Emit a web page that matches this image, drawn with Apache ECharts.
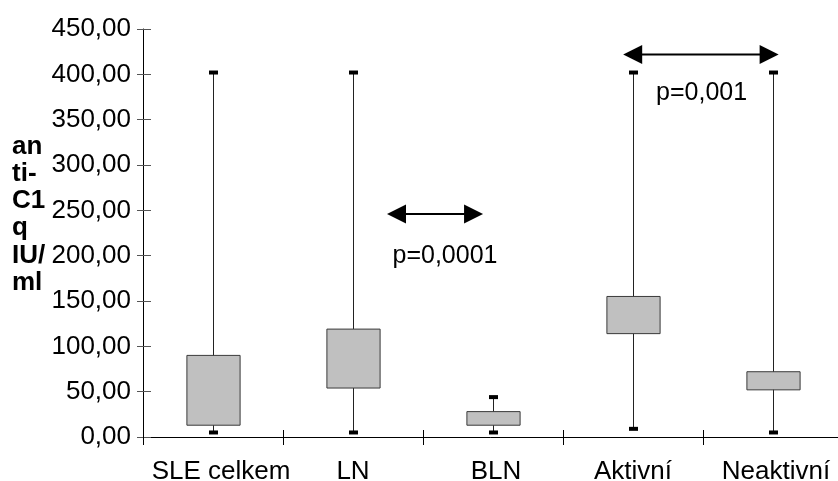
<!DOCTYPE html>
<html><head><meta charset="utf-8">
<script src="https://cdn.jsdelivr.net/npm/echarts@6/dist/echarts.min.js"></script>
<style>html,body{margin:0;padding:0;background:#fff}#c{width:838px;height:481px}</style>
</head><body><div id="c"></div>
<script>
// ---- data ----
const categories = ['SLE celkem', 'LN', 'BLN', 'Aktivní', 'Neaktivní'];
const whiskerLow  = [5, 5, 5, 9, 5];
const boxQ1       = [13, 54, 13, 114, 52];
const boxQ3       = [90, 119, 28, 155, 72];
const whiskerHigh = [402, 402, 44, 402, 402];
const yTickLabels = ['0,00', '50,00', '100,00', '150,00', '200,00', '250,00', '300,00', '350,00', '400,00', '450,00'];
const yAxisTitle = 'an\nti-\nC1\nq\nIU/\nml';
// annotations (category index units / value units)
const arrowFrom = [1.243, 2.93];
const arrowTo   = [1.929, 4.04];
const arrowAt   = [246, 422];
const pTexts    = ['p=0,0001', 'p=0,001'];
const pTextX    = [1.657, 3.49];
const pTextY    = [201, 380];

const FONT = "'Liberation Sans', Arial, sans-serif";
const chart = echarts.init(document.getElementById('c'), null, {renderer: 'canvas'});

const labelPadLeft = [16, 0, 6, 0, 6];
const categoryItems = categories.map((c, i) => ({value: c, textStyle: {padding: [0, 0, 0, labelPadLeft[i]]}}));
const boxData = categories.map((c, i) => [i, whiskerLow[i], boxQ1[i], boxQ3[i], whiskerHigh[i]]);
const arrowData = arrowAt.map((v, i) => [0, v, arrowFrom[i], arrowTo[i]]);
const textData = pTexts.map((t, i) => [0, pTextY[i], pTextX[i], i]);

const gridPos = {left: 143, width: 700, top: 29, height: 408, containLabel: false, outerBoundsMode: 'none'};

chart.setOption({
  animation: false,
  backgroundColor: '#fff',
  title: {
    text: yAxisTitle, left: 12, top: 133, padding: 0,
    textStyle: {fontFamily: FONT, fontSize: 26, fontWeight: 'bold', color: '#000', lineHeight: 27.2}
  },
  grid: [Object.assign({}, gridPos), Object.assign({}, gridPos)],
  xAxis: [{
    type: 'category', data: categoryItems, position: 'bottom', gridIndex: 0,
    axisLine: {lineStyle: {color: '#000', width: 1}},
    axisTick: {show: true, inside: false, length: 8, lineStyle: {color: '#000'}},
    axisLabel: {fontFamily: FONT, fontSize: 26, color: '#000', margin: 22, interval: 0},
    splitLine: {show: false}
  }, {
    type: 'category', data: categories, position: 'bottom', gridIndex: 1,
    axisLine: {show: false},
    axisTick: {show: true, inside: true, length: 7, lineStyle: {color: '#000'}},
    axisLabel: {show: false},
    splitLine: {show: false}
  }],
  yAxis: [{
    type: 'value', min: 0, max: 450, interval: 50, position: 'left', gridIndex: 0,
    axisLine: {show: true, lineStyle: {color: '#000', width: 1}},
    axisTick: {show: true, inside: false, length: 6, lineStyle: {color: '#555'}},
    axisLabel: {fontFamily: FONT, fontSize: 26, color: '#000', margin: 12,
      formatter: v => yTickLabels[Math.round(v / 50)]},
    splitLine: {show: false}
  }, {
    type: 'value', min: 0, max: 450, interval: 50, position: 'left', gridIndex: 1,
    axisLine: {show: false},
    axisTick: {show: true, inside: true, length: 8, lineStyle: {color: '#555'}},
    axisLabel: {show: false},
    splitLine: {show: false}
  }],
  series: [{
    type: 'custom', xAxisIndex: 0, yAxisIndex: 0, clip: false,
    data: boxData, encode: {x: 0, y: [1, 2, 3, 4]},
    renderItem: (params, api) => {
      const x = api.value(0);
      const pLow = api.coord([x, api.value(1)]);
      const pQ1 = api.coord([x, api.value(2)]);
      const pQ3 = api.coord([x, api.value(3)]);
      const pHigh = api.coord([x, api.value(4)]);
      const bw = api.size([1, 0])[0] * 0.38;
      const cx = Math.round(pLow[0]) + 0.5;
      return {type: 'group', children: [
        {type: 'line', shape: {x1: cx, y1: pHigh[1], x2: cx, y2: pLow[1]}, style: {stroke: '#222', lineWidth: 1}},
        {type: 'rect', shape: {x: cx - bw / 2, y: pQ3[1], width: bw, height: pQ1[1] - pQ3[1]},
          style: {fill: '#c0c0c0', stroke: '#3a3a3a', lineWidth: 1}},
        {type: 'rect', shape: {x: cx - 4.5, y: pHigh[1] - 2, width: 9, height: 4}, style: {fill: '#000'}},
        {type: 'rect', shape: {x: cx - 4.5, y: pLow[1] - 2, width: 9, height: 4}, style: {fill: '#000'}}
      ]};
    }
  }, {
    type: 'custom', xAxisIndex: 0, yAxisIndex: 0, clip: false,
    data: arrowData, encode: {x: 0, y: 1},
    renderItem: (params, api) => {
      const base = api.coord([api.value(0), api.value(1)]);
      const bw = api.size([1, 0])[0];
      const c0 = api.coord([0, 0])[0];
      const x1 = c0 + api.value(2) * bw;
      const x2 = c0 + api.value(3) * bw;
      const y = base[1];
      const hl = 19, hh = 9.5;
      return {type: 'group', children: [
        {type: 'line', shape: {x1: x1 + hl - 2, y1: y, x2: x2 - hl + 2, y2: y}, style: {stroke: '#000', lineWidth: 2}},
        {type: 'polygon', shape: {points: [[x1, y], [x1 + hl, y - hh], [x1 + hl, y + hh]]}, style: {fill: '#000'}},
        {type: 'polygon', shape: {points: [[x2, y], [x2 - hl, y - hh], [x2 - hl, y + hh]]}, style: {fill: '#000'}}
      ]};
    }
  }, {
    type: 'custom', xAxisIndex: 0, yAxisIndex: 0, clip: false,
    data: textData, encode: {x: 0, y: 1},
    renderItem: (params, api) => {
      const base = api.coord([api.value(0), api.value(1)]);
      const bw = api.size([1, 0])[0];
      const c0 = api.coord([0, 0])[0];
      const x = c0 + api.value(2) * bw;
      return {type: 'text', style: {text: pTexts[api.value(3)], x: x, y: base[1] + 1,
        fontFamily: FONT, fontSize: 25, fill: '#000', align: 'center', verticalAlign: 'middle'}};
    }
  }]
});
</script></body></html>
